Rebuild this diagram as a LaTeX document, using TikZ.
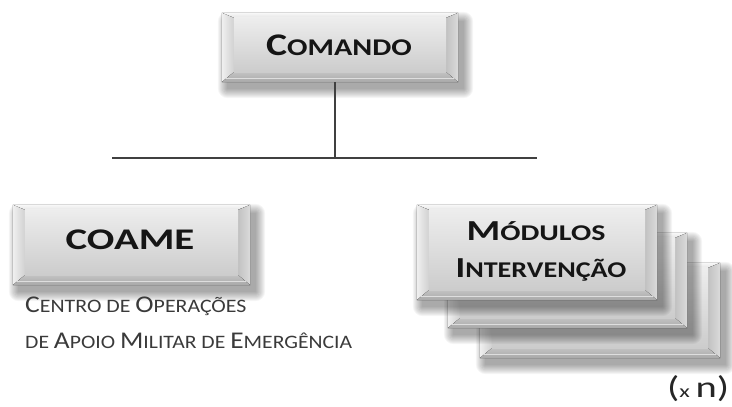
\documentclass[tikz,border=0pt]{standalone}
\usepackage{fontspec}
\usepackage{graphicx}
\setmainfont{Carlito}
\usetikzlibrary{calc}
\pgfdeclarelayer{background}
\pgfsetlayers{background,main}
\definecolor{linegray}{HTML}{404040}
\definecolor{txtdark}{HTML}{151515}
\definecolor{captxt}{HTML}{3A3A3A}
\newcommand\fs[2]{{\fontsize{#1}{#1}\selectfont #2}}
\newcommand\hs[2]{\scalebox{#1}[1]{#2}}
\newcommand\bevelbox[1]{%
  \coordinate (A) at (#1.north west);
  \coordinate (C) at (#1.south east);
  \coordinate (B) at (#1.north east);
  \coordinate (D) at (#1.south west);
  \foreach \i in {1,...,10}{%
    \fill[black,opacity=0.04,rounded corners=\i pt]
      ($(A)+(6-\i,9-\i)$) rectangle ($(C)+(5+\i,6+\i)$);}
  \fill[gray!70] (A) rectangle (C);
  \fill[top color=white!97!black,bottom color=white!90!black]
    (A) -- (B) -- ($(B)+(-12,5)$) -- ($(A)+(12,5)$) -- cycle;
  \fill[left color=white!94!black,right color=white!82!black]
    (A) -- ($(A)+(12,5)$) -- ($(D)+(12,-10)$) -- (D) -- cycle;
  \fill[left color=white!76!black,right color=white!86!black]
    (B) -- ($(B)+(-12,5)$) -- ($(C)+(-12,-10)$) -- (C) -- cycle;
  \fill[top color=white!76!black,bottom color=white!66!black]
    (D) -- ($(D)+(12,-10)$) -- ($(C)+(-12,-10)$) -- (C) -- cycle;
  \draw[white!87!black,line width=1.2pt] ($(D)+(4,-3.5)$) -- ($(C)+(-4,-3.5)$);
  \fill[top color=white!93!black,bottom color=white!80!black]
    ($(A)+(12,5)$) rectangle ($(C)+(-12,-10)$);
}
\begin{document}
\begin{tikzpicture}[x=1pt,y=-1pt,
  boxshape/.style={rectangle,inner sep=0pt,minimum width=#1},
  boxshape/.default=240pt,
  headtxt/.style={inner sep=0pt,text=txtdark,font=\bfseries},
  captxtstyle/.style={inner sep=0pt,text=captxt,anchor=base west},
  conn/.style={draw=linegray,line width=2pt}]
\useasboundingbox (0,0) rectangle (732,407);

% box nodes (shapes)
\node[boxshape=236pt,minimum height=69pt] (comando) at (340,47.5) {};
\node[boxshape=237pt,minimum height=80pt] (coame) at (131.5,245) {};
\node[boxshape=240pt,minimum height=95pt] (mod3) at (600,310.5) {};
\node[boxshape=239pt,minimum height=95pt] (mod2) at (567.5,280.5) {};
\node[boxshape=240pt,minimum height=95pt] (mod1) at (537,252.5) {};

\begin{pgfonlayer}{background}
  \bevelbox{comando}
  \bevelbox{coame}
  \bevelbox{mod3}
  \bevelbox{mod2}
  \bevelbox{mod1}
\end{pgfonlayer}

% texts
\node[headtxt,anchor=base] (comandotxt) at (339,55)
  {\hs{1.26}{\fs{31.5}{C}\fs{24}{OMANDO}}};
\node[headtxt,anchor=base] (coametxt) at (130,249)
  {\hs{1.36}{\fs{30}{COAME}}};
\node[headtxt,anchor=base] (modtxt1) at (536,240)
  {\hs{1.33}{\fs{29}{M}\fs{22.5}{ÓDULOS}}};
\node[headtxt,anchor=base] (modtxt2) at (541,277)
  {\hs{1.25}{\fs{29}{I}\fs{22.5}{NTERVENÇÃO}}};
\node[captxtstyle] (cap1) at (25,312)
  {\hs{1.15}{\fs{24}{C}\fs{19}{ENTRO DE }\fs{24}{O}\fs{19}{PERAÇÕES}}};
\node[captxtstyle] (cap2) at (25,348)
  {\hs{1.14}{\fs{19}{DE }\fs{24}{A}\fs{19}{POIO }\fs{24}{M}\fs{19}{ILITAR DE }\fs{24}{E}\fs{19}{MERGÊNCIA}}};
\node[captxtstyle,text=black!85] (xn) at (667,397)
  {\hs{1.35}{\fs{30}{(}\fs{18}{x }\fs{30}{n)}}};

% connectors
\coordinate (hl) at (112,157.5);
\coordinate (hr) at (537,157.5);
\coordinate (vj) at (335,157.5);
\draw[conn] (hl) -- (hr);
\draw[conn] (comando.south -| vj) -- (vj);
\end{tikzpicture}
\end{document}
